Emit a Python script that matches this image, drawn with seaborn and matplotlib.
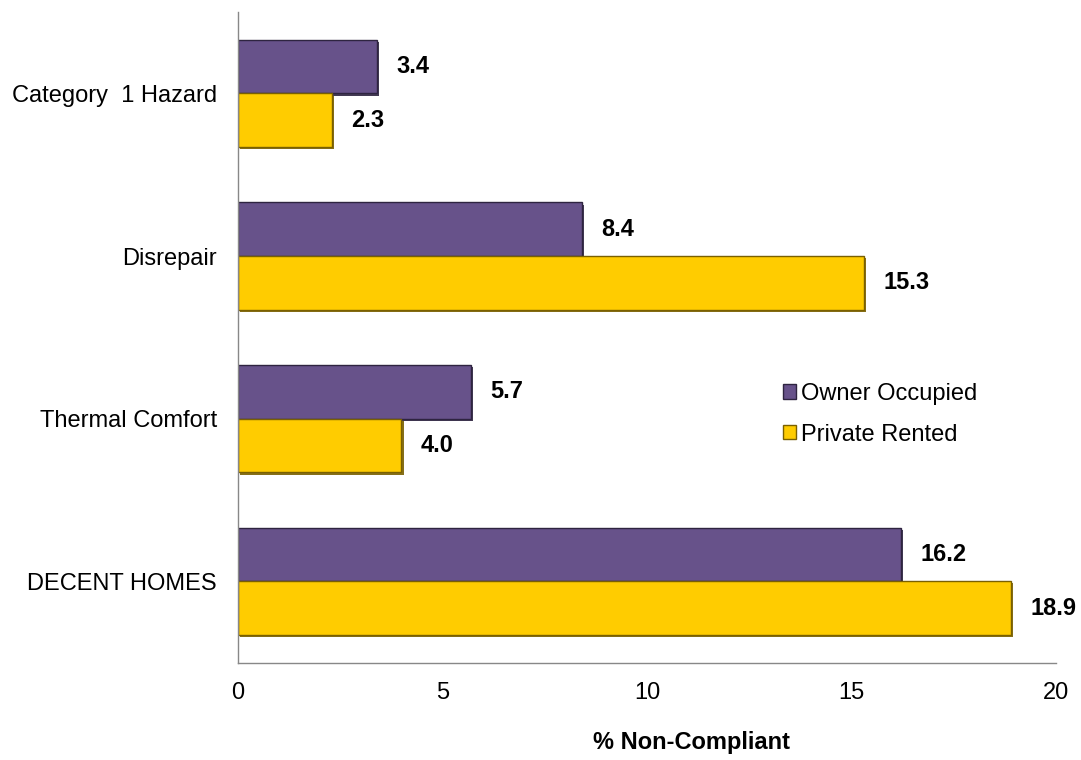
import matplotlib
matplotlib.use("Agg")
import matplotlib.pyplot as plt
import matplotlib.patheffects as pe
import seaborn as sns
import pandas as pd
import numpy as np

categories = ["Category  1 Hazard", "Disrepair", "Thermal Comfort", "DECENT HOMES"]
series = ["Owner Occupied", "Private Rented"]
owner_occupied = [3.4, 8.4, 5.7, 16.2]
private_rented = [2.3, 15.3, 4.0, 18.9]
xticks = [0, 5, 10, 15, 20]

colors = {"Owner Occupied": "#67528a", "Private Rented": "#ffcc00"}
edges = {"Owner Occupied": "#2e2440", "Private Rented": "#7a6000"}

df = pd.DataFrame({
    "category": categories * 2,
    "series": [series[0]] * 4 + [series[1]] * 4,
    "value": owner_occupied + private_rented,
})

sns.set_style("white")
plt.rcParams["font.family"] = ["Liberation Sans", "DejaVu Sans"]
plt.rcParams["text.color"] = "black"
plt.rcParams["axes.labelcolor"] = "black"
plt.rcParams["xtick.labelcolor"] = "black"
plt.rcParams["ytick.labelcolor"] = "black"
FS = 17

fig = plt.figure(figsize=(10.81, 7.6), dpi=100)
ax = fig.add_axes([0.220, 0.128, 0.757, 0.856])

sns.barplot(data=df, y="category", x="value", hue="series", order=categories,
            hue_order=series, palette=colors, orient="h", width=0.66,
            ax=ax, errorbar=None, saturation=1)

for cont, s in zip(ax.containers, series):
    for bar in cont:
        bar.set_edgecolor(edges[s])
        bar.set_linewidth(1.0)
        bar.set_path_effects([
            pe.SimplePatchShadow(offset=(1.5, -1.5), shadow_rgbFace=edges[s], alpha=0.9),
            pe.Normal(),
        ])
    ax.bar_label(cont, fmt="%.1f", padding=14, fontsize=FS, fontweight="bold", color="black")

ax.set_xlim(0, 20)
ax.set_ylim(len(categories) - 0.5, -0.5)
ax.set_xticks(xticks)
ax.set_xticklabels([str(t) for t in xticks], fontsize=FS)
ax.set_yticks(range(len(categories)))
ax.set_yticklabels(categories, fontsize=FS)
ax.set_yticks(np.arange(-0.5, len(categories), 1.0), minor=True)
ax.tick_params(axis="y", which="major", length=0, pad=15, labelcolor="black")
ax.tick_params(axis="y", which="minor", length=6, color="#888888", direction="out")
ax.tick_params(axis="x", which="major", length=6, color="#888888", direction="out", pad=8,
               labelcolor="black")

for sp in ["top", "right"]:
    ax.spines[sp].set_visible(False)
for sp in ["left", "bottom"]:
    ax.spines[sp].set_color("#888888")
    ax.spines[sp].set_linewidth(1)

ax.set_ylabel("")
ax.set_xlabel("% Non-Compliant", fontsize=FS, fontweight="bold", labelpad=19, color="black")
ax.xaxis.label.set_x(0.555)

leg = ax.legend(loc="center left", bbox_to_anchor=(0.655, 0.382), frameon=False,
                fontsize=FS, handlelength=0.55, handleheight=0.55, handletextpad=0.2,
                labelspacing=0.8, borderaxespad=0)
for h, s in zip(leg.legend_handles, series):
    h.set_edgecolor(edges[s])
    h.set_linewidth(1.0)
for t in leg.get_texts():
    t.set_color("black")

fig.savefig("out.png", dpi=100)
